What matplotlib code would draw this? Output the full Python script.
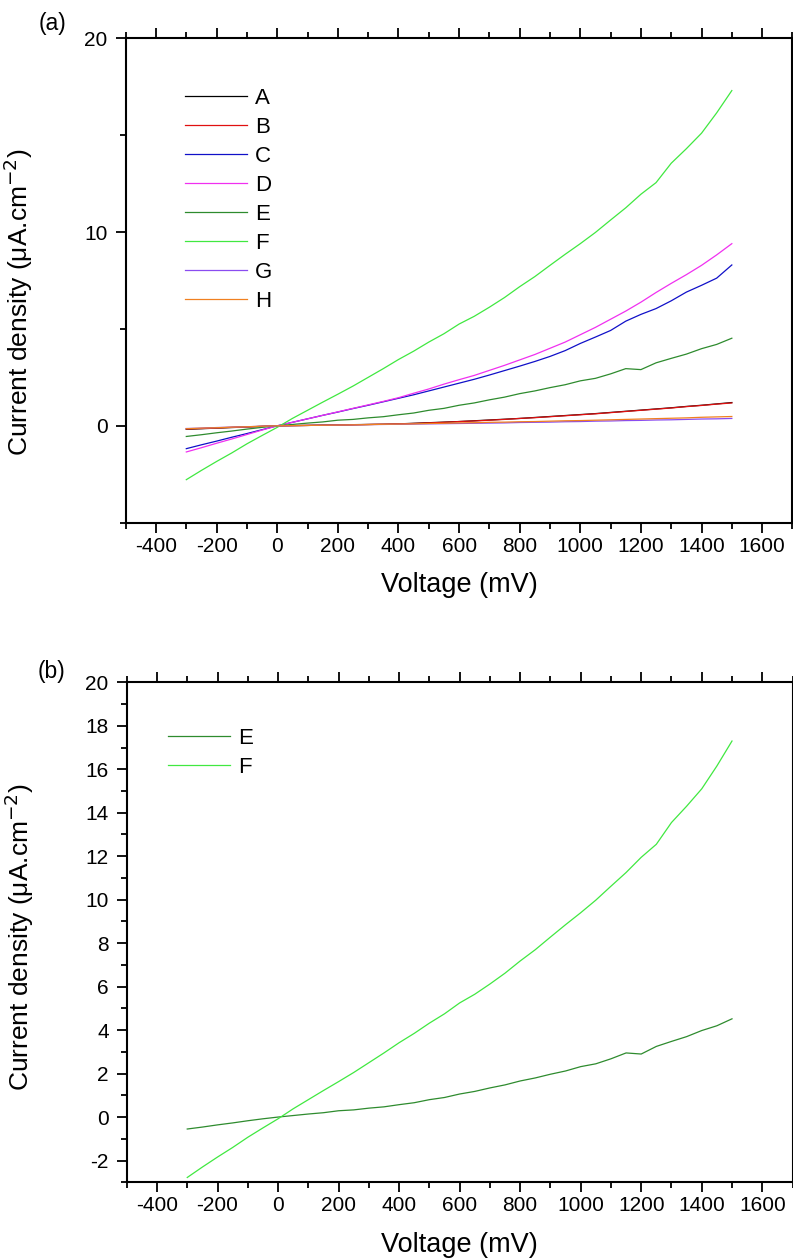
import numpy as np
import matplotlib
matplotlib.use("Agg")
import matplotlib.pyplot as plt
from matplotlib.ticker import MultipleLocator

plt.rcParams["font.family"] = ["Liberation Sans", "DejaVu Sans"]
plt.rcParams["axes.unicode_minus"] = False

# ── I-V data, current density in uA/cm^2, sampled every 50 mV ────────────────
voltage = np.arange(-300, 1501, 50)

curr_A = [-0.18, -0.15, -0.12, -0.09, -0.06, -0.03, 0.00, 0.01, 0.02, 0.035,
          0.045, 0.06, 0.07, 0.08, 0.10, 0.13, 0.16, 0.19, 0.22, 0.26,
          0.30, 0.34, 0.38, 0.43, 0.48, 0.53, 0.58, 0.63, 0.69, 0.75,
          0.81, 0.87, 0.93, 1.00, 1.06, 1.13, 1.20]
curr_B = [-0.16, -0.14, -0.11, -0.08, -0.06, -0.03, 0.00, 0.01, 0.02, 0.03,
          0.04, 0.05, 0.07, 0.08, 0.10, 0.12, 0.15, 0.18, 0.22, 0.25,
          0.29, 0.33, 0.38, 0.42, 0.47, 0.52, 0.57, 0.62, 0.68, 0.74,
          0.80, 0.86, 0.92, 0.99, 1.05, 1.12, 1.18]
curr_C = [-1.18, -0.98, -0.79, -0.59, -0.40, -0.20, 0.00, 0.18, 0.36, 0.54,
          0.71, 0.89, 1.06, 1.24, 1.42, 1.60, 1.80, 2.00, 2.20, 2.40,
          2.62, 2.85, 3.08, 3.32, 3.58, 3.88, 4.25, 4.58, 4.92, 5.40,
          5.75, 6.05, 6.45, 6.90, 7.25, 7.62, 8.30]
curr_D = [-1.35, -1.13, -0.90, -0.68, -0.45, -0.22, 0.00, 0.18, 0.36, 0.54,
          0.72, 0.90, 1.08, 1.26, 1.45, 1.68, 1.90, 2.15, 2.38, 2.60,
          2.86, 3.12, 3.40, 3.68, 4.00, 4.32, 4.70, 5.08, 5.50, 5.92,
          6.38, 6.88, 7.35, 7.80, 8.28, 8.82, 9.40]
curr_E = [-0.55, -0.46, -0.36, -0.27, -0.17, -0.08, 0.00, 0.07, 0.14, 0.20,
          0.29, 0.33, 0.41, 0.47, 0.57, 0.66, 0.80, 0.90, 1.06, 1.18,
          1.34, 1.48, 1.66, 1.80, 1.97, 2.12, 2.32, 2.45, 2.68, 2.95,
          2.90, 3.25, 3.48, 3.70, 3.98, 4.20, 4.52]
curr_F = [-2.78, -2.30, -1.84, -1.40, -0.93, -0.50, -0.08, 0.38, 0.80, 1.22,
          1.63, 2.05, 2.50, 2.95, 3.42, 3.85, 4.32, 4.75, 5.25, 5.65,
          6.12, 6.62, 7.18, 7.70, 8.28, 8.85, 9.40, 9.98, 10.62, 11.25,
          11.95, 12.55, 13.55, 14.30, 15.10, 16.15, 17.30]
curr_G = [-0.14, -0.12, -0.09, -0.07, -0.05, -0.02, 0.00, 0.01, 0.02, 0.03,
          0.04, 0.05, 0.06, 0.07, 0.08, 0.09, 0.10, 0.11, 0.12, 0.13,
          0.14, 0.15, 0.17, 0.18, 0.19, 0.21, 0.22, 0.24, 0.25, 0.27,
          0.28, 0.30, 0.31, 0.33, 0.35, 0.36, 0.38]
curr_H = [-0.15, -0.12, -0.10, -0.07, -0.05, -0.02, 0.00, 0.01, 0.02, 0.03,
          0.04, 0.05, 0.06, 0.08, 0.09, 0.10, 0.12, 0.13, 0.15, 0.16,
          0.18, 0.19, 0.21, 0.22, 0.24, 0.26, 0.27, 0.29, 0.31, 0.33,
          0.35, 0.37, 0.39, 0.41, 0.44, 0.46, 0.48]

labels = ["A", "B", "C", "D", "E", "F", "G", "H"]
series = [curr_A, curr_B, curr_C, curr_D, curr_E, curr_F, curr_G, curr_H]
colors = ["#000000", "#e01010", "#1010c8", "#f030f0",
          "#2e8b2e", "#40e840", "#8a4cf0", "#f08020"]

YLABEL = "Current density (\u03bcA.cm$^{-2}$)"


def style_axes(ax, ymin, ymax, ymajor, yminor, ylab_y):
    ax.set_xlim(-500, 1700)
    ax.set_ylim(ymin, ymax)
    ax.xaxis.set_major_locator(MultipleLocator(200))
    ax.xaxis.set_minor_locator(MultipleLocator(100))
    ax.yaxis.set_major_locator(MultipleLocator(ymajor))
    ax.yaxis.set_minor_locator(MultipleLocator(yminor))
    ax.tick_params(which="both", direction="out", top=True, right=False,
                   width=1.3, labelsize=15)
    ax.tick_params(axis="x", pad=3)
    ax.tick_params(axis="y", pad=6)
    ax.tick_params(which="major", length=7)
    ax.tick_params(which="minor", length=4)
    for s in ax.spines.values():
        s.set_linewidth(1.5)
    ax.set_xlabel("Voltage (mV)", fontsize=19.5, labelpad=12)
    ax.set_ylabel(YLABEL, fontsize=19)
    ax.yaxis.set_label_coords(-0.136, ylab_y)


def add_legend(ax, anchor):
    ax.legend(loc="upper left", bbox_to_anchor=anchor, frameon=False,
              fontsize=16, handlelength=2.8, handletextpad=0.36,
              labelspacing=0.36, borderpad=0, borderaxespad=0)


fig = plt.figure(figsize=(7.93, 12.58), dpi=100)

# ── (a) all samples ───────────────────────────────────────────────────────────
ax1 = fig.add_axes([0.1585, 0.5845, 0.8408, 0.3851])
for lab, y, c in zip(labels, series, colors):
    ax1.plot(voltage, y, color=c, lw=0.9, label=lab)
style_axes(ax1, -5, 20, 10, 5, 0.455)
add_legend(ax1, (0.089, 0.898))
fig.text(0.0668, 0.981, "(a)", fontsize=16.5, ha="center", va="center")

# ── (b) E and F only ──────────────────────────────────────────────────────────
ax2 = fig.add_axes([0.1598, 0.0602, 0.8396, 0.3974])
ax2.plot(voltage, curr_E, color=colors[4], lw=0.9, label="E")
ax2.plot(voltage, curr_F, color=colors[5], lw=0.9, label="F")
style_axes(ax2, -3, 20, 2, 1, 0.49)
add_legend(ax2, (0.062, 0.909))
fig.text(0.0652, 0.4666, "(b)", fontsize=16.5, ha="center", va="center")

fig.savefig("out.png", dpi=100)
